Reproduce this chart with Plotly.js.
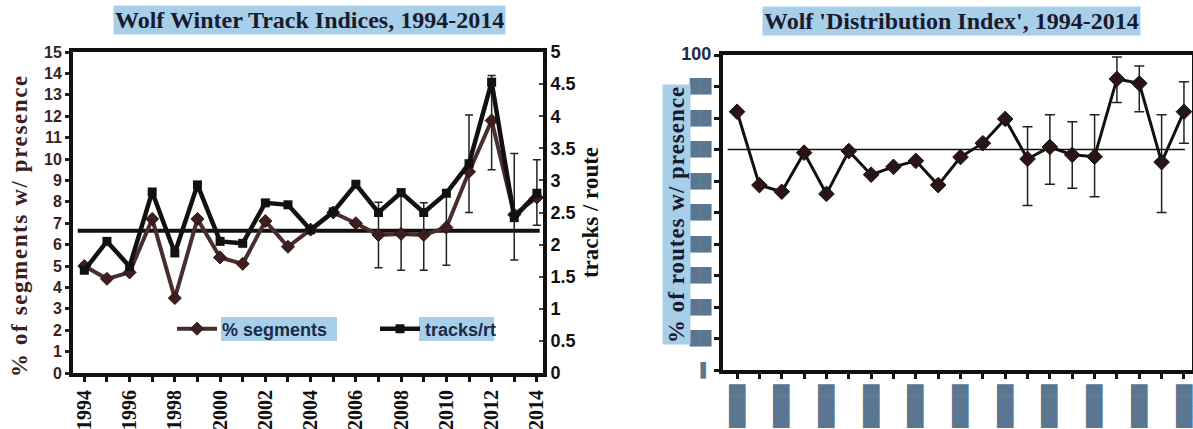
<!DOCTYPE html>
<html>
<head>
<meta charset="utf-8">
<script src="https://cdn.plot.ly/plotly-3.0.1.min.js"></script>
<style>html,body{margin:0;padding:0;background:#fff;}#chart{width:1193px;height:429px;}</style>
</head>
<body>
<div id="chart"></div>
<script>
// ---- data ----
const years = [1994,1995,1996,1997,1998,1999,2000,2001,2002,2003,2004,2005,2006,2007,2008,2009,2010,2011,2012,2013,2014];
const pctSegments = [5.0,4.4,4.7,7.2,3.5,7.2,5.4,5.1,7.1,5.9,6.7,7.5,7.0,6.45,6.5,6.45,6.8,9.4,11.8,7.4,8.2];
const pctSegErrPlus  = [null,null,null,null,null,null,null,null,null,null,null,null,null,1.53,1.96,1.5,1.75,2.66,2.1,2.86,1.76];
const pctSegErrMinus = [null,null,null,null,null,null,null,null,null,null,null,null,null,1.53,1.7,1.65,1.76,1.9,2.3,2.12,1.3];
const tracksPerRoute = [1.6,2.05,1.66,2.82,1.87,2.93,2.05,2.02,2.65,2.62,2.23,2.51,2.94,2.5,2.81,2.5,2.8,3.26,4.53,2.42,2.8];
const meanPctSegments = 6.65;

const distIndex = [82,58.7,56.6,69,55.9,69.5,62,64.5,66.4,58.7,67.6,72,79.7,67,70.8,68.3,67.7,92.4,91,66,82];
const distErrPlus  = [null,null,null,null,null,null,null,null,null,null,null,null,null,10.2,10.2,10.5,13.3,7,5.5,15,9.5];
const distErrMinus = [null,null,null,null,null,null,null,null,null,null,null,null,null,14.8,11.8,10.6,12.7,7.5,9,16,10];
const meanDistIndex = 70;

const leftYTicks = [0,1,2,3,4,5,6,7,8,9,10,11,12,13,14,15];
const rightYTicks = [0,0.5,1,1.5,2,2.5,3,3.5,4,4.5,5];
const rightYTickText = ['0','0.5','1','1.5','2','2.5','3','3.5','4','4.5','5'];
const xTickYears = [1994,1996,1998,2000,2002,2004,2006,2008,2010,2012,2014];
const distYTicks = [0,10,20,30,40,50,60,70,80,90,100];

// ---- styles ----
const BLOCK = '#5b7690';
const HILITE = '#a8cfe9';
const MAROON = '#3d1f1f';
const serif = 'Liberation Serif, Times New Roman, serif';
const sans = 'Liberation Sans, Arial, sans-serif';
const b = s => '<b>' + s + '</b>';
const spaced = (s, ls) => '<span style="letter-spacing:' + ls + 'px"><b>' + s + '</b></span>';

const distYTickText = distYTicks.map(v => v === 100
  ? '<span style="fill:#1b2a48;font-family:Liberation Sans;font-size:18px;font-weight:bold">100</span>'
  : (v === 0 ? '▌' : '██'));
const distXTickText = xTickYears.map(() => '████');

const traces = [
  {
    x: years, y: pctSegments, name: b('% segments'), type: 'scatter', mode: 'lines+markers',
    xaxis: 'x', yaxis: 'y',
    line: {color: '#4a2e2e', width: 4},
    marker: {symbol: 'diamond', size: 10, color: MAROON, line: {color: '#2a1414', width: 1}},
    error_y: {type: 'data', symmetric: false, array: pctSegErrPlus, arrayminus: pctSegErrMinus,
              color: '#222', thickness: 1.5, width: 4}
  },
  {
    x: years, y: tracksPerRoute, name: b('tracks/rt'), type: 'scatter', mode: 'lines+markers',
    xaxis: 'x', yaxis: 'y2',
    line: {color: '#111', width: 4.5},
    marker: {symbol: 'square', size: 9, color: '#111'}
  },
  {
    x: years, y: distIndex, name: 'Distribution index', type: 'scatter', mode: 'lines+markers',
    xaxis: 'x2', yaxis: 'y3', showlegend: false,
    line: {color: '#111', width: 3},
    marker: {symbol: 'diamond', size: 12, color: '#2a1414', line: {color: '#111', width: 1}},
    error_y: {type: 'data', symmetric: false, array: distErrPlus, arrayminus: distErrMinus,
              color: '#222', thickness: 1.5, width: 5}
  }
];

const W = 1193, H = 429;
const px = v => v / W, py = v => 1 - v / H;

const layout = {
  width: W, height: H,
  margin: {l: 0, r: 0, t: 0, b: 0},
  paper_bgcolor: '#fff', plot_bgcolor: '#fff',
  showlegend: true,
  legend: {
    orientation: 'h', x: px(172), y: py(329), xanchor: 'left', yanchor: 'middle',
    bgcolor: 'rgba(0,0,0,0)', font: {family: sans, size: 18, color: '#1b2a48'},
    entrywidth: 148, entrywidthmode: 'pixels', itemwidth: 40, tracegroupgap: 0
  },
  xaxis: {
    domain: [px(73), px(543)], range: [1993.5, 2014.27], anchor: 'y',
    tickmode: 'array', tickvals: xTickYears, ticktext: xTickYears.map(v => b(String(v))), tickangle: -90,
    ticks: 'outside', ticklen: 5, tickwidth: 3, tickcolor: '#111',
    minor: {dtick: 1, tick0: 1994, ticks: 'outside', ticklen: 5, tickwidth: 3, tickcolor: '#111'},
    tickfont: {family: serif, size: 20, color: '#111'},
    showline: true, linewidth: 4, linecolor: '#111', mirror: true,
    showgrid: false, zeroline: false
  },
  yaxis: {
    domain: [py(373), py(52)], range: [0, 15], anchor: 'x',
    tickmode: 'array', tickvals: leftYTicks, ticktext: leftYTicks.map(v => b(String(v))),
    ticks: 'outside', ticklen: 4, tickwidth: 3, tickcolor: '#222',
    tickfont: {family: sans, size: 16, color: MAROON},
    showline: true, linewidth: 4, linecolor: '#111',
    showgrid: false, zeroline: false
  },
  yaxis2: {
    domain: [py(373), py(52)], range: [0, 5], overlaying: 'y', side: 'right', anchor: 'x',
    tickmode: 'array', tickvals: rightYTicks, ticktext: rightYTickText.map(b),
    ticks: 'inside', ticklen: 4, tickwidth: 2, tickcolor: '#444',
    tickfont: {family: sans, size: 18, color: '#111'},
    showline: true, linewidth: 4, linecolor: '#111',
    showgrid: false, zeroline: false,
    title: {text: b('tracks / route'), standoff: 8,
            font: {family: serif, size: 23, color: '#111'}}
  },
  xaxis2: {
    domain: [px(723), px(1192)], range: [1993.37, 2014.36], anchor: 'y3',
    tickmode: 'array', tickvals: xTickYears, ticktext: distXTickText, tickangle: -90,
    ticks: 'outside', ticklen: 5, tickwidth: 3, tickcolor: '#111',
    minor: {dtick: 1, tick0: 1994, ticks: 'outside', ticklen: 5, tickwidth: 3, tickcolor: '#111'},
    tickfont: {family: 'DejaVu Sans', size: 14, color: BLOCK},
    showline: true, linewidth: 4, linecolor: '#111', mirror: true,
    showgrid: false, zeroline: false
  },
  yaxis3: {
    domain: [py(370), py(55)], range: [0, 100], anchor: 'x2',
    tickmode: 'array', tickvals: distYTicks, ticktext: distYTickText,
    ticks: 'outside', ticklen: 5, tickwidth: 3, tickcolor: '#111',
    tickfont: {family: 'DejaVu Sans', size: 14, color: BLOCK},
    showline: true, linewidth: 4, linecolor: '#111', mirror: true,
    showgrid: false, zeroline: false
  },
  shapes: [
    {type: 'line', xref: 'x domain', yref: 'y', x0: 0.01, x1: 0.993, y0: meanPctSegments, y1: meanPctSegments,
     line: {color: '#111', width: 4}, layer: 'below'},
    {type: 'line', xref: 'x2 domain', yref: 'y3', x0: 0.01, x1: 0.985, y0: meanDistIndex, y1: meanDistIndex,
     line: {color: '#111', width: 1.5}, layer: 'below'},
    // highlight behind legend labels
    {type: 'rect', xref: 'paper', yref: 'paper', x0: px(221), x1: px(337), y0: py(341), y1: py(317),
     fillcolor: HILITE, line: {width: 0}, layer: 'below'},
    {type: 'rect', xref: 'paper', yref: 'paper', x0: px(419), x1: px(494), y0: py(341), y1: py(317),
     fillcolor: HILITE, line: {width: 0}, layer: 'below'}
  ],
  annotations: [
    {text: b('Wolf Winter Track Indices, 1994-2014'), xref: 'paper', yref: 'paper',
     x: px(309), y: py(20), xanchor: 'center', yanchor: 'middle', showarrow: false,
     bgcolor: HILITE, borderpad: 1,
     font: {family: serif, size: 24, color: '#1a1a2e'}},
    {text: b("Wolf 'Distribution Index', 1994-2014"), xref: 'paper', yref: 'paper',
     x: px(951), y: py(21), xanchor: 'center', yanchor: 'middle', showarrow: false,
     bgcolor: HILITE, borderpad: 1,
     font: {family: serif, size: 24, color: '#1a1a2e'}},
    {text: spaced('% of segments w/ presence', 1.6), xref: 'paper', yref: 'paper', textangle: -90,
     x: px(19), y: py(226), xanchor: 'center', yanchor: 'middle', showarrow: false,
     font: {family: serif, size: 23, color: MAROON}},
    {text: spaced('% of routes w/ presence', 1), xref: 'paper', yref: 'paper', textangle: -90,
     x: px(676), y: py(215), xanchor: 'center', yanchor: 'middle', showarrow: false,
     bgcolor: HILITE, borderpad: 1,
     font: {family: serif, size: 23, color: '#1a1a2e'}}
  ]
};

Plotly.newPlot('chart', traces, layout, {displayModeBar: false, staticPlot: true});
</script>
</body>
</html>
